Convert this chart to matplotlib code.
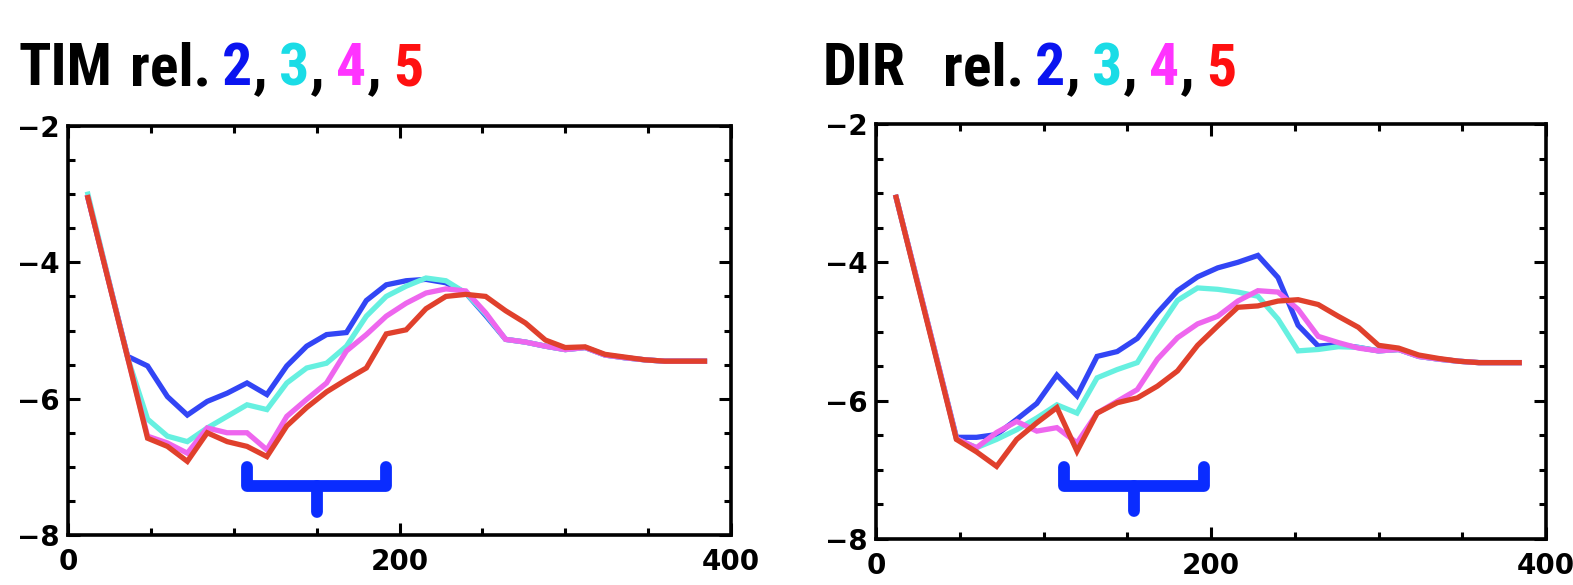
import matplotlib
matplotlib.use("Agg")
import matplotlib.pyplot as plt
from matplotlib import font_manager
from matplotlib.ticker import MultipleLocator, FixedLocator, FuncFormatter

# ---------------- data ----------------
x = [12 * k for k in range(1, 33)]

tim_rel2 = [-3.05, -4.22, -5.38, -5.52, -5.97, -6.24, -6.04, -5.92, -5.77, -5.94, -5.52, -5.23,
            -5.06, -5.03, -4.56, -4.33, -4.27, -4.25, -4.30, -4.45, -4.78, -5.13, -5.17, -5.23,
            -5.28, -5.25, -5.36, -5.40, -5.43, -5.45, -5.45, -5.45]
tim_rel3 = [-3.00, -4.20, -5.40, -6.30, -6.55, -6.63, -6.43, -6.26, -6.09, -6.16, -5.77, -5.55,
            -5.48, -5.23, -4.79, -4.50, -4.35, -4.23, -4.27, -4.45, -4.76, -5.13, -5.17, -5.23,
            -5.28, -5.25, -5.36, -5.40, -5.43, -5.45, -5.45, -5.45]
tim_rel4 = [-3.05, -4.22, -5.40, -6.55, -6.65, -6.80, -6.43, -6.50, -6.50, -6.75, -6.26, -6.01,
            -5.77, -5.30, -5.06, -4.79, -4.60, -4.45, -4.39, -4.42, -4.74, -5.13, -5.17, -5.23,
            -5.28, -5.25, -5.36, -5.40, -5.43, -5.45, -5.45, -5.45]
tim_rel5 = [-3.05, -4.23, -5.40, -6.58, -6.70, -6.92, -6.50, -6.63, -6.70, -6.85, -6.40, -6.13,
            -5.90, -5.72, -5.55, -5.05, -4.99, -4.68, -4.50, -4.47, -4.50, -4.71, -4.89, -5.14,
            -5.25, -5.24, -5.35, -5.39, -5.43, -5.45, -5.45, -5.45]

dir_rel2 = [-3.06, -4.21, -5.37, -6.53, -6.53, -6.49, -6.27, -6.04, -5.63, -5.93, -5.36, -5.29,
            -5.10, -4.73, -4.41, -4.21, -4.08, -4.00, -3.90, -4.22, -4.91, -5.21, -5.19, -5.23,
            -5.28, -5.26, -5.36, -5.40, -5.43, -5.45, -5.45, -5.45]
dir_rel3 = [-3.06, -4.21, -5.37, -6.55, -6.68, -6.56, -6.42, -6.25, -6.06, -6.18, -5.67, -5.55,
            -5.45, -4.98, -4.55, -4.37, -4.39, -4.43, -4.49, -4.82, -5.28, -5.26, -5.22, -5.23,
            -5.28, -5.26, -5.36, -5.40, -5.43, -5.45, -5.45, -5.45]
dir_rel4 = [-3.06, -4.21, -5.37, -6.55, -6.68, -6.46, -6.30, -6.44, -6.39, -6.61, -6.18, -6.01,
            -5.84, -5.40, -5.09, -4.89, -4.78, -4.56, -4.41, -4.43, -4.68, -5.07, -5.16, -5.24,
            -5.28, -5.26, -5.36, -5.40, -5.43, -5.45, -5.45, -5.45]
dir_rel5 = [-3.06, -4.23, -5.39, -6.56, -6.74, -6.95, -6.56, -6.32, -6.10, -6.73, -6.18, -6.03,
            -5.96, -5.79, -5.57, -5.20, -4.92, -4.65, -4.63, -4.56, -4.54, -4.61, -4.78, -4.94,
            -5.20, -5.24, -5.34, -5.39, -5.43, -5.45, -5.45, -5.45]

panel_names = ["TIM", "DIR"]
release_labels = ["2", "3", "4", "5"]
line_colors = ["#3245f5", "#66f0e0", "#ee66ee", "#e0402c"]
title_colors = ["#0a14f0", "#1adce6", "#ff33ff", "#ff1010"]

# bracket (x0, x1, xmid, y_top, y_bar, y_stem) in data units
tim_bracket = (108, 192, 150, -7.00, -7.28, -7.66)
dir_bracket = (112, 196, 154, -6.96, -7.24, -7.60)

# ---------------- figure ----------------
plt.rcParams["font.family"] = ["DejaVu Sans"]
plt.rcParams["font.weight"] = "bold"

W, H = 1573, 585
fig = plt.figure(figsize=(W / 100, H / 100), dpi=100)

avail = {f.name for f in font_manager.fontManager.ttflist}
title_font = "Liberation Sans"
for cand in ["Roboto Condensed", "PT Sans Narrow", "Fira Sans Extra Condensed", "Liberation Sans Narrow"]:
    if cand in avail:
        title_font = cand
        break


def add_axes_px(left, right, top, bottom):
    return fig.add_axes([left / W, (H - bottom) / H, (right - left) / W, (bottom - top) / H])


def ytick_fmt(v, pos):
    return ("\u2212" if v < 0 else "") + f"{abs(v):g}"


ax1 = add_axes_px(68, 731, 126, 535)
ax2 = add_axes_px(876, 1546, 124, 539)

panels = [
    (ax1, [tim_rel2, tim_rel3, tim_rel4, tim_rel5], tim_bracket),
    (ax2, [dir_rel2, dir_rel3, dir_rel4, dir_rel5], dir_bracket),
]

for ax, series, br in panels:
    for ys, c in zip(series, line_colors):
        ax.plot(x, ys, color=c, lw=3.8, solid_joinstyle="miter", zorder=3)
    x0, x1, xm, yt, yb, ys_ = br
    ax.plot([x0, x0, x1, x1], [yt, yb, yb, yt], color="#0a2cff", lw=8.5,
            solid_capstyle="round", solid_joinstyle="round", zorder=4)
    ax.plot([xm, xm], [yb, ys_], color="#0a2cff", lw=8.5,
            solid_capstyle="round", zorder=4)

    ax.set_xlim(0, 400)
    ax.set_ylim(-8, -2)
    ax.xaxis.set_major_locator(FixedLocator([0, 200, 400]))
    ax.xaxis.set_minor_locator(MultipleLocator(50))
    ax.yaxis.set_major_locator(MultipleLocator(2))
    ax.yaxis.set_minor_locator(MultipleLocator(0.5))
    ax.yaxis.set_major_formatter(FuncFormatter(ytick_fmt))
    ax.tick_params(which="both", direction="in", top=True, right=True, width=2.2,
                   colors="black", labelsize=20)
    ax.tick_params(which="major", length=8.5)
    ax.tick_params(which="minor", length=5)
    ax.tick_params(axis="y", which="major", pad=6)
    ax.tick_params(axis="x", which="major", pad=9)
    for sp in ax.spines.values():
        sp.set_linewidth(2.6)

renderer = fig.canvas.get_renderer()
TITLE_SIZE = 43
BASELINE = 85


def put(px, s, color):
    t = fig.text(px / W, (H - BASELINE) / H, s, color=color, fontsize=TITLE_SIZE,
                 fontweight="bold", family=title_font, ha="left", va="baseline")
    bb = t.get_window_extent(renderer)
    return bb.x1


# reference left positions of the words (pixels)
title_anchor = {"TIM": (18, 113), "DIR": (823, 943)}
for name in panel_names:
    x_name, x_rel = title_anchor[name]
    right = put(x_name, name, "black")
    right = put(max(x_rel, right + 18), "rel.", "black")
    xp = right + 11
    for i, (lab, c) in enumerate(zip(release_labels, title_colors)):
        r = put(xp, lab, c)
        if i < len(release_labels) - 1:
            r = put(r + 1, ",", "black")
            xp = r + 11

fig.savefig("out.png", dpi=100, facecolor="white")
